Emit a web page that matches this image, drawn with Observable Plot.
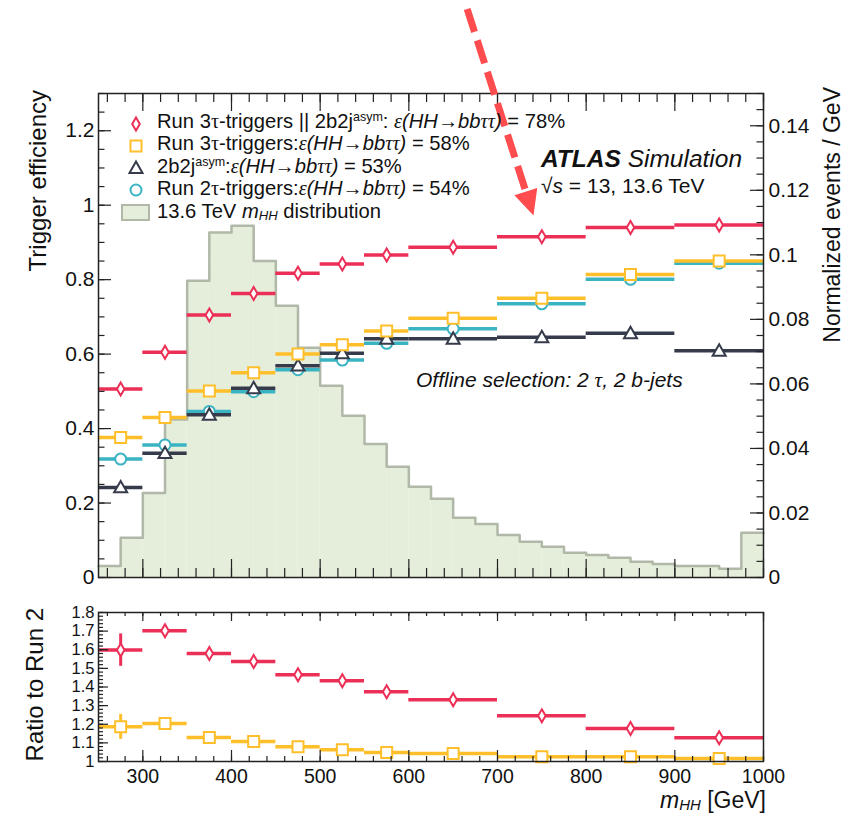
<!DOCTYPE html>
<html><head><meta charset="utf-8">
<script src="https://cdn.jsdelivr.net/npm/d3@7"></script>
<script src="https://cdn.jsdelivr.net/npm/@observablehq/plot@0.6"></script>
<style>
body{margin:0;background:#fff;font-family:"Liberation Sans",Arial,sans-serif;}
#wrap{position:relative;width:861px;height:814px;overflow:hidden;background:#fff;}
#main,#ratio{position:absolute;left:0;}
#main{top:0}
#ratio{top:592px}
.ov{position:absolute;white-space:nowrap;color:#111;line-height:1;}
.gr{font-family:"Liberation Serif",serif;}
.gi{font-family:"Liberation Serif",serif;font-style:italic;}
sup{font-size:0.62em;position:relative;top:-0.55em;vertical-align:baseline;line-height:0;}
sub{font-size:0.65em;position:relative;top:0.15em;vertical-align:baseline;line-height:0;}
.rot{transform-origin:0 0;transform:rotate(-90deg) translate(-100%,-50%);}
.mk{position:absolute;width:24px;height:24px;}
</style></head>
<body>
<div id="wrap">
  <div id="main"></div>
  <div id="ratio"></div>
</div>
<script>
// ---------- data ----------
const binEdges = [250, 300, 350, 400, 450, 500, 550, 600, 700, 800, 900, 1000];
const effCombined = [0.506, 0.605, 0.705, 0.763, 0.817, 0.842, 0.866, 0.887, 0.915, 0.940, 0.947];
const effRun3Tau  = [0.376, 0.430, 0.501, 0.550, 0.600, 0.625, 0.662, 0.696, 0.750, 0.814, 0.850];
const eff2b2j     = [0.242, 0.334, 0.437, 0.508, 0.569, 0.602, 0.641, 0.641, 0.645, 0.656, 0.609];
const effRun2Tau  = [0.318, 0.356, 0.446, 0.499, 0.558, 0.584, 0.629, 0.668, 0.735, 0.801, 0.844];
const ratioCombined    = [1.598, 1.702, 1.580, 1.537, 1.466, 1.433, 1.374, 1.331, 1.245, 1.177, 1.127];
const ratioCombinedErr = [0.087, 0.012, 0.008, 0.007, 0.006, 0.006, 0.006, 0.005, 0.005, 0.006, 0.008];
const ratioRun3Tau     = [1.186, 1.204, 1.129, 1.107, 1.079, 1.063, 1.048, 1.043, 1.025, 1.025, 1.016];
const ratioRun3TauErr  = [0.067, 0.010, 0.006, 0.005, 0.005, 0.004, 0.004, 0.004, 0.004, 0.005, 0.006];
const histEdges = [250,275,300,325,350,375,400,425,450,475,500,525,550,575,600,625,650,675,700,725,750,775,800,825,850,875,900,925,950,975,1000];
const histValues = [0.0036, 0.0123, 0.0262, 0.0490, 0.0920, 0.1069, 0.1090, 0.0981, 0.0842, 0.0712,
                    0.0594, 0.0501, 0.0414, 0.0343, 0.0281, 0.0244, 0.0185, 0.0166, 0.0132, 0.0111,
                    0.0095, 0.0077, 0.0070, 0.0061, 0.0049, 0.0042, 0.0036, 0.0036, 0.0027, 0.0139];
const leftMajor  = [0, 0.2, 0.4, 0.6, 0.8, 1, 1.2];
const rightMajor = [0, 0.02, 0.04, 0.06, 0.08, 0.1, 0.12, 0.14];
const ratioMajor = [1, 1.1, 1.2, 1.3, 1.4, 1.5, 1.6, 1.7, 1.8];
const xMajor = [300, 400, 500, 600, 700, 800, 900, 1000];
// annotation arrow (data units): dashed shaft start/end and head tip
const arrowShaft = [{x1: 665.8, y1: 1.527, x2: 733.5, y2: 1.025}];
const arrowTip = [{x: 740.6, y: 0.972}];

// ---------- layout ----------
const W = 861, mainH = 592, ratioH = 222;
const mL = 98, mR = 98, mainTop = 93, mainBottom = 15, ratioTop = 20, ratioBottom = 53;
const frameW = W - mL - mR, frameHMain = mainH - mainTop - mainBottom, frameHRatio = ratioH - ratioTop - ratioBottom;
const rightMax = 0.15, leftMax = 1.3, k = leftMax / rightMax;

const C = {red: "#ec2f56", yellow: "#ffbf2a", cyan: "#3ab3c3", dark: "#353b4b", fill: "#e4eedb", hist: "#b0b8a8", arrow: "#ff4d4f", axis: "#222"};

const centers = binEdges.slice(0, -1).map((e, i) => (e + binEdges[i + 1]) / 2);
const table = (vals, errs) => vals.map((v, i) => ({lo: binEdges[i], hi: binEdges[i + 1], c: centers[i], v, e: errs ? errs[i] : 0}));
const histTable = histValues.map((v, i) => ({lo: histEdges[i], hi: histEdges[i + 1], v}));
const histStep = histValues.map((v, i) => ({x: histEdges[i], v})).concat([{x: histEdges[histEdges.length - 1], v: histValues[histValues.length - 1]}]);

const rad = (size) => Math.sqrt(size / Math.PI);
const SYM = {
  diamond: {draw(c, s) { const r = rad(s); c.moveTo(0, -r); c.lineTo(r * 0.58, 0); c.lineTo(0, r); c.lineTo(-r * 0.58, 0); c.closePath(); }},
  square: {draw(c, s) { const r = rad(s); c.rect(-r, -r, 2 * r, 2 * r); }},
  triangle: {draw(c, s) { const r = rad(s); c.moveTo(0, -r); c.lineTo(r, r * 0.75); c.lineTo(-r, r * 0.75); c.closePath(); }},
  circle: {draw(c, s) { const r = rad(s); c.moveTo(r, 0); c.arc(0, 0, r, 0, 2 * Math.PI); }}
};
const tilt = 17.7 * Math.PI / 180;
const headSymbol = {draw(c, s) {
  const r = rad(s), L = r * 2.1, dx = Math.sin(tilt), dy = Math.cos(tilt), px = -dy, py = dx;
  c.moveTo(0, 0); c.lineTo(-dx * L + px * r, -dy * L + py * r); c.lineTo(-dx * L - px * r, -dy * L - py * r); c.closePath();
}};

function series(data, color, symbol, r, vert) {
  const m = [Plot.ruleY(data, {x1: "lo", x2: "hi", y: "v", stroke: color, strokeWidth: 3.5})];
  if (vert) m.push(Plot.ruleX(data, {x: "c", y1: d => d.v - d.e, y2: d => d.v + d.e, stroke: color, strokeWidth: 3}));
  m.push(Plot.dot(data, {x: "c", y: "v", symbol, r, stroke: color, strokeWidth: 2, fill: "white"}));
  return m;
}
const fmt = d => String(Math.round(d * 1000) / 1000);
const range = (a, b, s) => d3.range(Math.round((b - a) / s) + 1).map(i => a + i * s);
const tk = {stroke: C.axis, strokeWidth: 1.2};

const fontFamily = "'Liberation Sans', Arial, sans-serif";

// ---------- main panel ----------
const main = Plot.plot({
  width: W, height: mainH,
  marginLeft: mL, marginRight: mR, marginTop: mainTop, marginBottom: mainBottom,
  x: {domain: [250, 1000], axis: null},
  y: {domain: [0, leftMax], axis: null},
  style: {fontFamily, color: "#111", background: "transparent", overflow: "visible"},
  marks: [
    Plot.rectY(histTable, {x1: "lo", x2: "hi", y: d => d.v * k, fill: C.fill}),
    Plot.line(histStep, {x: "x", y: d => d.v * k, curve: "step-after", stroke: C.hist, strokeWidth: 2.5}),
    ...series(table(effRun2Tau), C.cyan, SYM.circle, 5.5),
    ...series(table(eff2b2j), C.dark, SYM.triangle, 6.5),
    ...series(table(effRun3Tau), C.yellow, SYM.square, 5.5),
    ...series(table(effCombined), C.red, SYM.diamond, 6.5),
    // ticks (inward)
    Plot.tickY(range(0, 1.3, 0.05), {y: d => d, insetRight: frameW - 6.5, ...tk}),
    Plot.tickY(leftMajor, {y: d => d, insetRight: frameW - 13, ...tk}),
    Plot.tickY(range(0, 0.15, 0.005).map(t => t * k), {y: d => d, insetLeft: frameW - 6.5, ...tk}),
    Plot.tickY(rightMajor.map(t => t * k), {y: d => d, insetLeft: frameW - 13, ...tk}),
    Plot.tickX(range(260, 1000, 20), {x: d => d, insetTop: frameHMain - 9, ...tk}),
    Plot.tickX(xMajor, {x: d => d, insetTop: frameHMain - 18, ...tk}),
    Plot.tickX(range(260, 1000, 20), {x: d => d, insetBottom: frameHMain - 9, ...tk}),
    Plot.tickX(xMajor, {x: d => d, insetBottom: frameHMain - 18, ...tk}),
    Plot.axisY({anchor: "left", ticks: leftMajor, tickFormat: fmt, tickSize: 0, tickPadding: 4, fontSize: 21, label: null}),
    Plot.axisY({anchor: "right", ticks: rightMajor.map(t => t * k), tickFormat: d => fmt(d / k), tickSize: 0, tickPadding: 5, fontSize: 21, label: null}),
    Plot.frame({stroke: C.axis, strokeWidth: 1.5}),
    Plot.link(arrowShaft, {x1: "x1", y1: "y1", x2: "x2", y2: "y2", stroke: C.arrow, strokeWidth: 7, strokeDasharray: "24,9"}),
    Plot.dot(arrowTip, {x: "x", y: "y", symbol: headSymbol, r: 12, fill: C.arrow, stroke: "none"})
  ]
});
document.getElementById("main").append(main);

// ---------- ratio panel ----------
const ratio = Plot.plot({
  width: W, height: ratioH,
  marginLeft: mL, marginRight: mR, marginTop: ratioTop, marginBottom: ratioBottom,
  x: {domain: [250, 1000], axis: null},
  y: {domain: [1, 1.8], axis: null},
  style: {fontFamily, color: "#111", background: "transparent", overflow: "visible"},
  marks: [
    ...series(table(ratioRun3Tau, ratioRun3TauErr), C.yellow, SYM.square, 5.5, true),
    ...series(table(ratioCombined, ratioCombinedErr), C.red, SYM.diamond, 6.5, true),
    Plot.tickY(range(1, 1.8, 0.02), {y: d => d, insetRight: frameW - 5, ...tk}),
    Plot.tickY(ratioMajor, {y: d => d, insetRight: frameW - 10, ...tk}),
    Plot.tickX(range(260, 1000, 20), {x: d => d, insetTop: frameHRatio - 5, ...tk}),
    Plot.tickX(xMajor, {x: d => d, insetTop: frameHRatio - 11, ...tk}),
    Plot.tickX(range(260, 1000, 20), {x: d => d, insetBottom: frameHRatio - 4, ...tk}),
    Plot.tickX(xMajor, {x: d => d, insetBottom: frameHRatio - 9, ...tk}),
    Plot.axisY({anchor: "left", ticks: ratioMajor, tickFormat: fmt, tickSize: 0, tickPadding: 4, fontSize: 16.5, label: null}),
    Plot.axisX({anchor: "bottom", ticks: xMajor, tickFormat: d => String(d), tickSize: 0, tickPadding: 8, fontSize: 19.5, label: null}),
    Plot.frame({stroke: C.axis, strokeWidth: 1.5})
  ]
});
document.getElementById("ratio").append(ratio);

// ---------- text overlays ----------
const wrap = document.getElementById("wrap");
function addText(html, left, baseline, fs, extra = "") {
  const d = document.createElement("div");
  d.className = "ov";
  d.style.cssText = `left:${left}px;top:${baseline - 0.8465 * fs}px;font-size:${fs}px;${extra}`;
  d.innerHTML = html;
  wrap.append(d);
  return d;
}
function addRot(html, cx, topEnd, fs) {
  const d = document.createElement("div");
  d.className = "ov rot";
  d.style.left = cx + "px"; d.style.top = topEnd + "px"; d.style.fontSize = fs + "px";
  d.innerHTML = html;
  wrap.append(d);
}
const eps = `<span class="gi">ε</span><i>(HH→bb</i><span class="gi">ττ</span><i>)</i>`;
const tau = `<span class="gr">τ</span>`;
const legendRows = [
  {html: `Run 3${tau}-triggers || 2b2j<sup>asym</sup>: ${eps} = 78%`, base: 128, mark: "diamond", color: C.red, my: 123.5},
  {html: `Run 3${tau}-triggers:${eps} = 58%`, base: 150.5, mark: "square", color: C.yellow, my: 145.5},
  {html: `2b2j<sup>asym</sup>:${eps} = 53%`, base: 173, mark: "triangle", color: C.dark, my: 168},
  {html: `Run 2${tau}-triggers:${eps} = 54%`, base: 195.5, mark: "circle", color: C.cyan, my: 190},
  {html: `13.6 TeV <i>m</i><sub><i>HH</i></sub> distribution`, base: 218, mark: "box", my: 213}
];
const markPaths = {
  diamond: `<path d="M12,5.5L15.8,12L12,18.5L8.2,12Z"/>`,
  square: `<rect x="6.5" y="6.5" width="11" height="11"/>`,
  triangle: `<path d="M12,5.5L18.5,16.9L5.5,16.9Z"/>`,
  circle: `<circle cx="12" cy="12" r="5.5"/>`
};
for (const r of legendRows) {
  addText(r.html, 157, r.base, 20.2);
  const s = document.createElement("div");
  if (r.mark === "box") {
    s.style.cssText = `position:absolute;left:121px;top:204px;width:29px;height:17px;background:${C.fill};border:2px solid ${C.hist};box-sizing:border-box;`;
  } else {
    s.className = "mk";
    s.style.left = (136 - 12) + "px"; s.style.top = (r.my - 12) + "px";
    s.innerHTML = `<svg width="24" height="24" fill="white" stroke="${r.color}" stroke-width="2">${markPaths[r.mark]}</svg>`;
  }
  wrap.append(s);
}
addText(`<b><i>ATLAS</i></b> <i>Simulation</i>`, 541, 168, 24.5);
addText(`√<i>s</i> = 13, 13.6 TeV`, 541, 193, 21);
addText(`<i>Offline selection: 2 <span class="gi">τ</span>, 2 b-jets</i>`, 416, 386.5, 21);
addRot(`Trigger efficiency`, 38, 90, 24);
addRot(`Normalized events / GeV`, 832, 87, 23);
addRot(`Ratio to Run 2`, 35, 608, 24);
const xt = addText(`<i>m</i><sub><i>HH</i></sub> [GeV]`, 0, 808, 23);
xt.style.left = ""; xt.style.right = (W - 766) + "px";
</script>
</body></html>
